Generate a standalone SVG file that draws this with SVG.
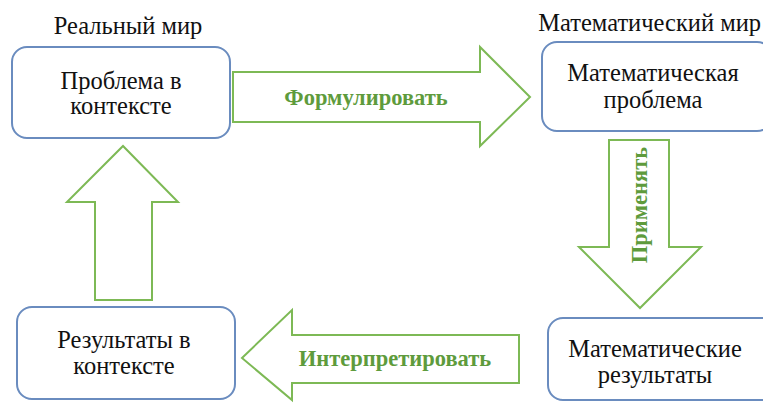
<svg xmlns="http://www.w3.org/2000/svg" width="763" height="403" viewBox="0 0 763 403">
<style>
.box{fill:#fff;stroke:#6A8CBF;stroke-width:2}
.arr{fill:#fff;stroke:#7DB955;stroke-width:2;stroke-linejoin:miter}
.t{font-family:'Liberation Serif','DejaVu Serif',serif;font-size:24.5px;fill:#111;text-anchor:middle}
.lbl{font-family:'Liberation Serif','DejaVu Serif',serif;font-size:22.5px;font-weight:bold;fill:#5E9B3C;text-anchor:middle}
</style>
<rect width="763" height="403" fill="#fff"/>
<g id="connectors">
<polygon class="arr" points="233,72 480,72 480,47 530,97 480,146 480,122 233,122"/>
<polygon class="arr" points="609,140 669,140 669,247 701,247 640,308 579,247 609,247"/>
<polygon class="arr" points="519,335 292,335 292,310 242,358 292,400 292,383 519,383"/>
<polygon class="arr" points="95,300 95,202 67,202 123,146 178,202 152,202 152,300"/>
<text class="lbl" x="366" y="105">Формулировать</text>
<text class="lbl" transform="translate(647,205) rotate(-90)">Применять</text>
<text class="lbl" x="395" y="366">Интерпретировать</text>
</g>
<text class="t" x="128" y="34">Реальный мир</text>
<text class="t" x="761" y="31" style="text-anchor:end">Математический мир</text>
<g id="n1">
<rect class="box" x="12" y="47" width="218" height="91" rx="15"/>
<text class="t" x="121" y="89">Проблема в</text>
<text class="t" x="121" y="114">контексте</text>
</g>
<g id="n2">
<rect class="box" x="542" y="42" width="230" height="89" rx="15"/>
<text class="t" x="653" y="81">Математическая</text>
<text class="t" x="653" y="108">проблема</text>
</g>
<g id="n3">
<rect class="box" x="548" y="318" width="230" height="82" rx="15"/>
<text class="t" x="655" y="357">Математические</text>
<text class="t" x="655" y="383">результаты</text>
</g>
<g id="n4">
<rect class="box" x="17" y="307" width="218" height="92" rx="15"/>
<text class="t" x="124" y="348">Результаты в</text>
<text class="t" x="124" y="374">контексте</text>
</g>
</svg>
